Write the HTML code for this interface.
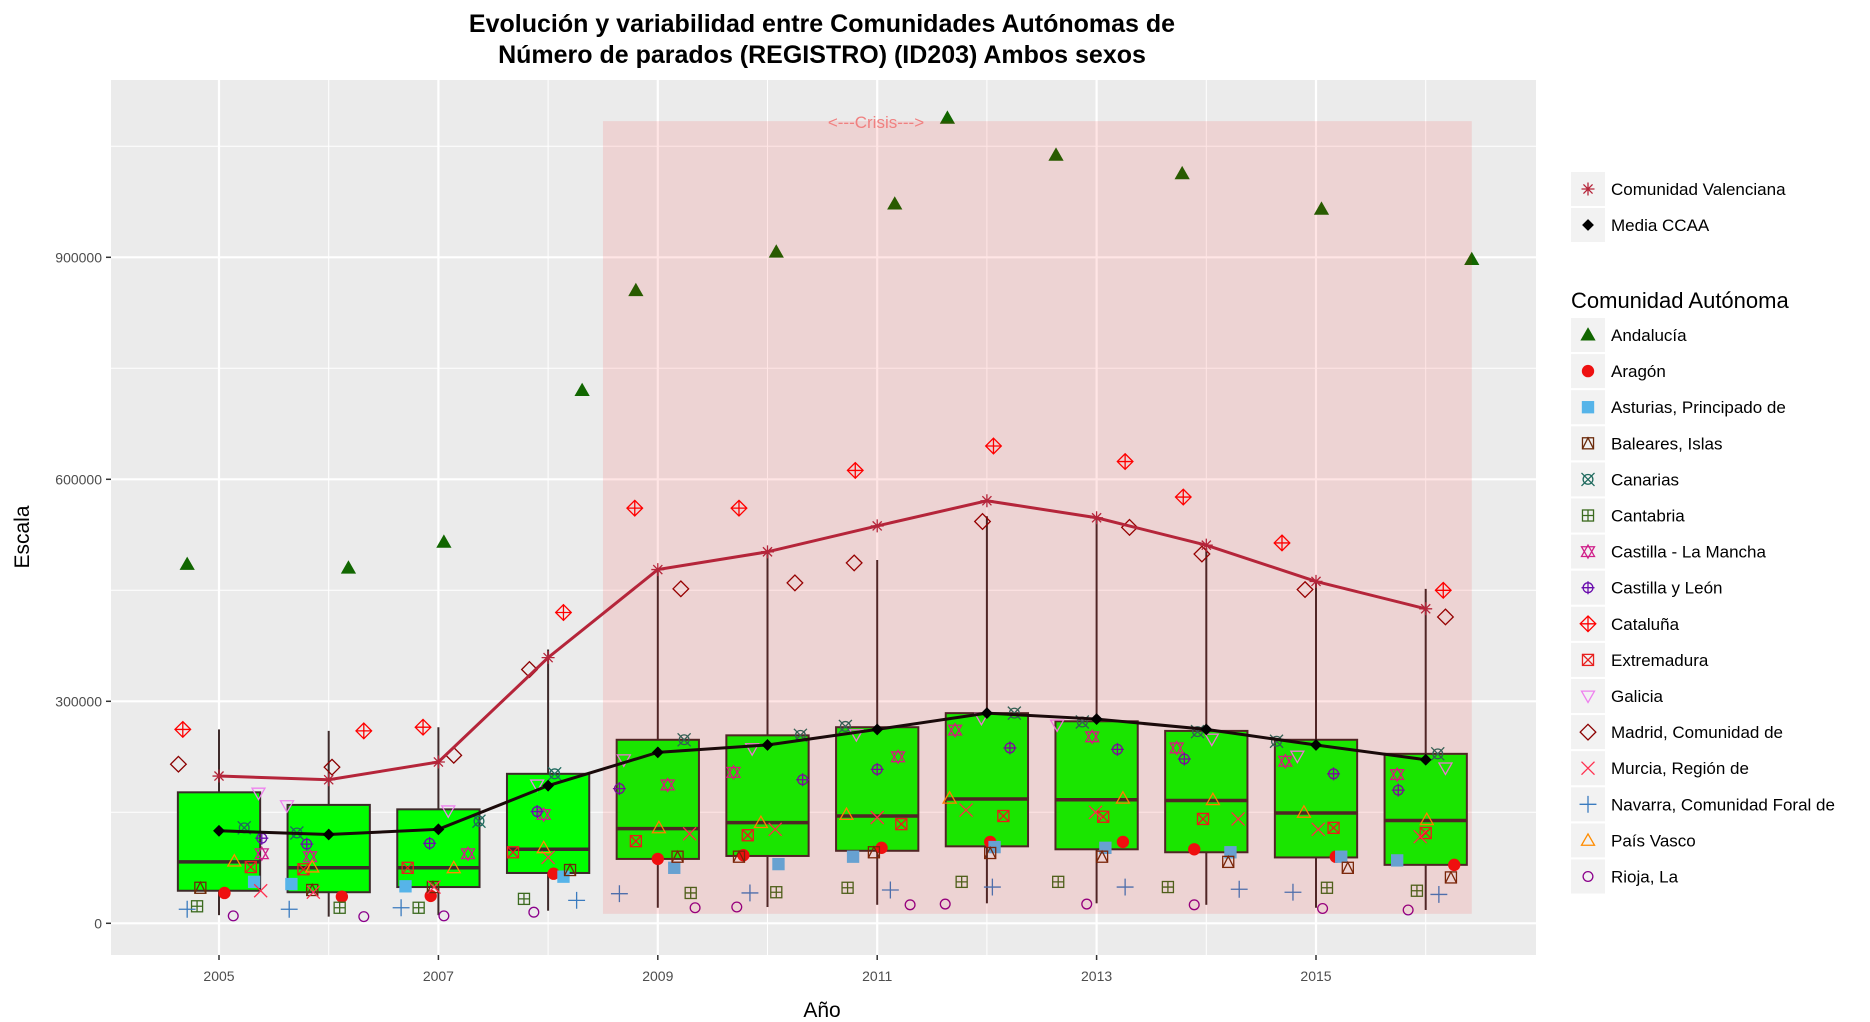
<!DOCTYPE html>
<html><head><meta charset="utf-8">
<style>
html,body{margin:0;padding:0;background:#fff;}
svg{display:block;font-family:"Liberation Sans",Arial,sans-serif;}
</style></head>
<body>
<svg id="chart" width="1870" height="1022" viewBox="0 0 1870 1022" xmlns="http://www.w3.org/2000/svg">
  <text x="822" y="32" text-anchor="middle" font-size="25" font-weight="bold" fill="#000">Evolución y variabilidad entre Comunidades Autónomas de</text>
  <text x="822" y="63" text-anchor="middle" font-size="25" font-weight="bold" fill="#000">Número de parados (REGISTRO) (ID203) Ambos sexos</text>
  <rect x="111" y="80" width="1425" height="875" fill="#ebebeb"/>
  <g id="grid"></g>
  <g id="boxes"></g>
  <g id="points"></g>
  <g id="crisis"></g>
  <g id="lines"></g>
  <g id="axes"></g>
  <text x="822" y="1017" text-anchor="middle" font-size="21" fill="#000">Año</text>
  <text transform="translate(29,537) rotate(-90)" text-anchor="middle" font-size="21" fill="#000">Escala</text>
  <g id="legend"></g>
</svg>
<script>
const years = [2005,2006,2007,2008,2009,2010,2011,2012,2013,2014,2015,2016];
const yTicks = [0,300000,600000,900000];
const xTicks = [2005,2007,2009,2011,2013,2015];
const boxQ1 = [44000,42000,49000,68000,87000,91000,98000,104000,100000,96000,89000,79000];
const boxMedian = [83000,75000,75000,100000,128000,136000,145000,168000,167000,166000,149000,139000];
const boxQ3 = [177000,160000,154000,202000,248000,254000,265000,284000,273000,260000,248000,229000];
const whiskerLow = [11000,9000,11000,17000,21000,22000,25000,27000,27000,25000,21000,18000];
const whiskerHigh = [262000,260000,265000,370000,478000,500000,491000,550000,548000,507000,462000,452000];
const mediaCCAA = [125000,120000,127000,186000,231000,241000,262000,284000,276000,262000,241000,221000];
const valenciana = [199000,194000,218000,359000,478000,502000,537000,571000,548000,511000,462000,425000];
const crisisStart = 2008.5, crisisEnd = 2016.42, crisisLow = 12800, crisisHigh = 1084000;

const andalucia = [485000,480000,515000,720000,855000,907000,972000,1088000,1038000,1013000,965000,897000];
const andaluciaJit = [-0.29,0.18,0.05,0.31,-0.2,0.08,0.16,-0.36,-0.37,-0.22,0.05,0.42];
const aragon = [41000,36000,37000,67000,87000,92000,102000,110000,110000,100000,90000,79000];
const aragonJit = [0.05,0.12,-0.07,0.05,0,-0.22,0.04,0.03,0.24,-0.11,0.18,0.26];
const asturias = [56000,53000,50000,63000,75000,80000,90000,103000,102000,96000,90000,85000];
const asturiasJit = [0.32,-0.34,-0.3,0.14,0.15,0.1,-0.22,0.07,0.08,0.22,0.23,-0.26];
const baleares = [48000,45000,49000,72000,90000,90000,96000,95000,90000,83000,75000,62000];
const balearesJit = [-0.17,-0.15,-0.05,0.2,0.18,-0.26,-0.03,0.03,0.05,0.2,0.29,0.23];
const canarias = [129000,122000,138000,202000,248000,254000,266000,284000,272000,259000,246000,229000];
const canariasJit = [0.23,-0.29,0.37,0.06,0.24,0.3,-0.29,0.25,-0.13,-0.08,-0.36,0.11];
const cantabria = [23000,21000,21000,33000,41000,42000,48000,56000,56000,49000,48000,44000];
const cantabriaJit = [-0.2,0.1,-0.18,-0.22,0.3,0.08,-0.27,-0.23,-0.35,-0.35,0.1,-0.08];
const clm = [94000,90000,94000,147000,187000,204000,225000,261000,252000,237000,219000,201000];
const clmJit = [0.39,-0.17,0.27,-0.04,0.09,-0.31,0.19,-0.29,-0.04,-0.27,-0.28,-0.26];
const cyl = [115000,107000,108000,151000,182000,194000,208000,237000,235000,222000,202000,180000];
const cylJit = [0.39,-0.2,-0.08,-0.1,-0.35,0.32,0,0.21,0.19,-0.2,0.16,-0.25];
const cataluna = [262000,260000,265000,420000,561000,561000,612000,645000,624000,576000,514000,450000];
const catalunaJit = [-0.33,0.32,-0.14,0.14,-0.21,-0.26,-0.2,0.06,0.26,-0.21,-0.31,0.16];
const extremadura = [76000,73000,75000,96000,111000,119000,134000,145000,144000,141000,129000,122000];
const extremaduraJit = [0.29,-0.23,-0.28,-0.32,-0.2,-0.18,0.22,0.15,0.06,-0.03,0.16,0];
const galicia = [176000,159000,152000,187000,221000,236000,255000,277000,268000,249000,226000,210000];
const galiciaJit = [0.36,-0.38,0.09,-0.1,-0.31,-0.14,-0.19,-0.05,-0.36,0.05,-0.17,0.18];
const madrid = [215000,211000,227000,343000,452000,460000,487000,543000,535000,499000,451000,414000];
const madridJit = [-0.37,0.03,0.14,-0.17,0.21,0.25,-0.21,-0.04,0.3,-0.04,-0.1,0.18];
const murcia = [44000,42000,49000,89000,121000,127000,143000,153000,150000,141000,127000,117000];
const murciaJit = [0.38,-0.14,-0.04,0,0.29,0.07,0,-0.19,-0.01,0.29,0.02,-0.05];
const navarra = [19000,19000,21000,31000,40000,41000,45000,49000,49000,46000,42000,39000];
const navarraJit = [-0.29,-0.36,-0.34,0.26,-0.35,-0.16,0.12,0.05,0.26,0.3,-0.21,0.12];
const paisVasco = [84000,76000,75000,102000,129000,136000,147000,169000,169000,167000,150000,140000];
const paisVascoJit = [0.14,-0.15,0.14,-0.04,0.01,-0.06,-0.28,-0.34,0.24,0.06,-0.11,0.01];
const rioja = [10000,9000,10000,15000,21000,22000,25000,26000,26000,25000,20000,18000];
const riojaJit = [0.13,0.32,0.05,-0.13,0.34,-0.28,0.3,-0.38,-0.09,-0.11,0.06,-0.16];

const NS = "http://www.w3.org/2000/svg";
const X = yr => 219 + (yr - 2005) * 109.7;
const Y = v => 923.3 - v * 222 / 300000;
function mk(tag, attrs, parent) {
  const e = document.createElementNS(NS, tag);
  for (const k in attrs) e.setAttribute(k, attrs[k]);
  parent.appendChild(e);
  return e;
}
const grid = document.getElementById('grid');
// minor y
for (let v = 150000; v <= 1050000; v += 300000) {
  const l = mk('line', {x1:111, x2:1536, y1:Y(v), y2:Y(v), stroke:'#fff', 'stroke-width':1}, grid);
  
  
}
yTicks.forEach(v => {
  const l = mk('line', {x1:111, x2:1536, y1:Y(v), y2:Y(v), stroke:'#fff', 'stroke-width':2.2}, grid);
  
  
});
for (let yr = 2004; yr <= 2016; yr += 2) {
  const l = mk('line', {x1:X(yr), x2:X(yr), y1:80, y2:955, stroke:'#fff', 'stroke-width':1}, grid);
  
  
}
xTicks.forEach(yr => {
  const l = mk('line', {x1:X(yr), x2:X(yr), y1:80, y2:955, stroke:'#fff', 'stroke-width':2.2}, grid);
  
  
});

// boxplots
const boxes = document.getElementById('boxes');
const hw = 0.375 * 109.7;
years.forEach((yr, i) => {
  const g = mk('g', {}, boxes);
  
  
  const cx = X(yr);
  const w1 = mk('line', {x1:cx, x2:cx, y1:Y(whiskerHigh[i]), y2:Y(boxQ3[i]), stroke:'#3d2a2a', 'stroke-width':2}, g);
  
  
  const w2 = mk('line', {x1:cx, x2:cx, y1:Y(boxQ1[i]), y2:Y(whiskerLow[i]), stroke:'#3d2a2a', 'stroke-width':2}, g);
  
  
  const r = mk('rect', {x:cx-hw, y:Y(boxQ3[i]), width:2*hw, height:Y(boxQ1[i])-Y(boxQ3[i]), fill:'#00ff00', stroke:'#3d2a2a', 'stroke-width':2}, g);
  
  
  const m = mk('line', {x1:cx-hw, x2:cx+hw, y1:Y(boxMedian[i]), y2:Y(boxMedian[i]), stroke:'#3d2a2a', 'stroke-width':3.5}, g);
  
  
});

// markers
function drawShape(shape, color, cx, cy, parent) {
  const s = 6.5;
  const g = mk('g', {fill:'none', stroke:color, 'stroke-width':1.3}, parent);
  const tri = (up, sz) => {
    const h = sz * 1.0;
    return up ? `${cx},${cy-h} ${cx+h},${cy+h*0.75} ${cx-h},${cy+h*0.75}` : `${cx},${cy+h} ${cx+h},${cy-h*0.75} ${cx-h},${cy-h*0.75}`;
  };
  switch (shape) {
    case 'triFill': mk('polygon', {points:tri(true, s), fill:color, stroke:color}, g); break;
    case 'tri': mk('polygon', {points:tri(true, s)}, g); break;
    case 'triDown': mk('polygon', {points:tri(false, s)}, g); break;
    case 'circleFill': mk('circle', {cx, cy, r:s*0.85, fill:color}, g); break;
    case 'circle': mk('circle', {cx, cy, r:s*0.75}, g); break;
    case 'circlePlus': mk('circle', {cx, cy, r:s*0.75}, g);
      mk('path', {d:`M${cx-s} ${cy}H${cx+s}M${cx} ${cy-s}V${cy+s}`}, g); break;
    case 'circleX': mk('circle', {cx, cy, r:s*0.75}, g);
      mk('path', {d:`M${cx-s} ${cy-s}L${cx+s} ${cy+s}M${cx+s} ${cy-s}L${cx-s} ${cy+s}`}, g); break;
    case 'squareFill': mk('rect', {x:cx-s*0.85, y:cy-s*0.85, width:s*1.7, height:s*1.7, fill:color}, g); break;
    case 'squareTri': mk('rect', {x:cx-s*0.85, y:cy-s*0.85, width:s*1.7, height:s*1.7}, g);
      mk('path', {d:`M${cx-s*0.85} ${cy+s*0.85}L${cx} ${cy-s*0.85}L${cx+s*0.85} ${cy+s*0.85}`}, g); break;
    case 'squareX': mk('rect', {x:cx-s*0.85, y:cy-s*0.85, width:s*1.7, height:s*1.7}, g);
      mk('path', {d:`M${cx-s*0.85} ${cy-s*0.85}L${cx+s*0.85} ${cy+s*0.85}M${cx+s*0.85} ${cy-s*0.85}L${cx-s*0.85} ${cy+s*0.85}`}, g); break;
    case 'squarePlus': mk('rect', {x:cx-s*0.85, y:cy-s*0.85, width:s*1.7, height:s*1.7}, g);
      mk('path', {d:`M${cx-s*0.85} ${cy}H${cx+s*0.85}M${cx} ${cy-s*0.85}V${cy+s*0.85}`}, g); break;
    case 'star': mk('polygon', {points:tri(true, s)}, g); mk('polygon', {points:tri(false, s)}, g); break;
    case 'diamondPlus': mk('polygon', {points:`${cx},${cy-s*1.2} ${cx+s*1.2},${cy} ${cx},${cy+s*1.2} ${cx-s*1.2},${cy}`}, g);
      mk('path', {d:`M${cx-s*1.2} ${cy}H${cx+s*1.2}M${cx} ${cy-s*1.2}V${cy+s*1.2}`}, g); break;
    case 'diamond': mk('polygon', {points:`${cx},${cy-s*1.2} ${cx+s*1.2},${cy} ${cx},${cy+s*1.2} ${cx-s*1.2},${cy}`}, g); break;
    case 'x': mk('path', {d:`M${cx-s} ${cy-s}L${cx+s} ${cy+s}M${cx+s} ${cy-s}L${cx-s} ${cy+s}`}, g); break;
    case 'plus': mk('path', {d:`M${cx-s*1.3} ${cy}H${cx+s*1.3}M${cx} ${cy-s*1.3}V${cy+s*1.3}`}, g); break;
    case 'asterisk': mk('path', {d:`M${cx-s} ${cy}H${cx+s}M${cx} ${cy-s}V${cy+s}M${cx-s*0.7} ${cy-s*0.7}L${cx+s*0.7} ${cy+s*0.7}M${cx+s*0.7} ${cy-s*0.7}L${cx-s*0.7} ${cy+s*0.7}`}, g); break;
    case 'diamondFill': mk('polygon', {points:`${cx},${cy-5} ${cx+5},${cy} ${cx},${cy+5} ${cx-5},${cy}`, fill:color}, g); break;
  }
  return g;
}

const communities = [
  {name:'Andalucía', slug:'andalucia', vals:andalucia, jit:andaluciaJit, shape:'triFill', color:'#116600'},
  {name:'Aragón', slug:'aragon', vals:aragon, jit:aragonJit, shape:'circleFill', color:'#ee1111'},
  {name:'Asturias, Principado de', slug:'asturias', vals:asturias, jit:asturiasJit, shape:'squareFill', color:'#56b4e9'},
  {name:'Baleares, Islas', slug:'baleares', vals:baleares, jit:balearesJit, shape:'squareTri', color:'#6b2a0a'},
  {name:'Canarias', slug:'canarias', vals:canarias, jit:canariasJit, shape:'circleX', color:'#1f6a5e'},
  {name:'Cantabria', slug:'cantabria', vals:cantabria, jit:cantabriaJit, shape:'squarePlus', color:'#3b6a1e'},
  {name:'Castilla - La Mancha', slug:'castilla-la-mancha', vals:clm, jit:clmJit, shape:'star', color:'#d0208a'},
  {name:'Castilla y León', slug:'castilla-y-leon', vals:cyl, jit:cylJit, shape:'circlePlus', color:'#6a0dad'},
  {name:'Cataluña', slug:'cataluna', vals:cataluna, jit:catalunaJit, shape:'diamondPlus', color:'#ff0000'},
  {name:'Extremadura', slug:'extremadura', vals:extremadura, jit:extremaduraJit, shape:'squareX', color:'#e8201e'},
  {name:'Galicia', slug:'galicia', vals:galicia, jit:galiciaJit, shape:'triDown', color:'#ee82ee'},
  {name:'Madrid, Comunidad de', slug:'madrid', vals:madrid, jit:madridJit, shape:'diamond', color:'#8b0000'},
  {name:'Murcia, Región de', slug:'murcia', vals:murcia, jit:murciaJit, shape:'x', color:'#ff3050'},
  {name:'Navarra, Comunidad Foral de', slug:'navarra', vals:navarra, jit:navarraJit, shape:'plus', color:'#3a7bbf'},
  {name:'País Vasco', slug:'pais-vasco', vals:paisVasco, jit:paisVascoJit, shape:'tri', color:'#ff8c00'},
  {name:'Rioja, La', slug:'rioja', vals:rioja, jit:riojaJit, shape:'circle', color:'#8b008b'}
];
const pts = document.getElementById('points');
communities.forEach(c => {
  c.vals.forEach((v, i) => {
    const g = drawShape(c.shape, c.color, X(years[i] + c.jit[i]), Y(v), pts);
    
    
  });
});

// crisis band
const crisis = document.getElementById('crisis');
const cr = mk('rect', {x:X(crisisStart), y:Y(crisisHigh), width:X(crisisEnd)-X(crisisStart), height:Y(crisisLow)-Y(crisisHigh), fill:'rgba(255,0,0,0.1)'}, crisis);


const ct = mk('text', {x:876, y:128, 'text-anchor':'middle', 'font-size':17, fill:'#f08080'}, crisis);
ct.textContent = '<---Crisis--->';



// lines
const lines = document.getElementById('lines');
const vl = mk('polyline', {points: years.map((yr,i)=>X(yr)+','+Y(valenciana[i])).join(' '), fill:'none', stroke:'#b5253a', 'stroke-width':3}, lines);


years.forEach((yr, i) => {
  const g = drawShape('asterisk', '#b5253a', X(yr), Y(valenciana[i]), lines);
  
  
});
const ml = mk('polyline', {points: years.map((yr,i)=>X(yr)+','+Y(mediaCCAA[i])).join(' '), fill:'none', stroke:'#1a0a0a', 'stroke-width':3}, lines);


years.forEach((yr, i) => {
  const g = drawShape('diamondFill', '#000', X(yr), Y(mediaCCAA[i]), lines);
  
  
});

// axes
const axes = document.getElementById('axes');
yTicks.forEach(v => {
  const t = mk('line', {x1:106, x2:111, y1:Y(v), y2:Y(v), stroke:'#333', 'stroke-width':1.5}, axes);
  
  
  const l = mk('text', {x:102, y:Y(v)+5, 'text-anchor':'end', 'font-size':14, fill:'#4d4d4d'}, axes);
  l.textContent = v;
  
  
});
xTicks.forEach(yr => {
  const t = mk('line', {x1:X(yr), x2:X(yr), y1:955, y2:960, stroke:'#333', 'stroke-width':1.5}, axes);
  
  
  const l = mk('text', {x:X(yr), y:981, 'text-anchor':'middle', 'font-size':14, fill:'#4d4d4d'}, axes);
  l.textContent = yr;
  
  
});

// legend
const leg = document.getElementById('legend');
function legItem(cy, shape, color, label, slug) {
  const g = mk('g', {}, leg);
  
  
  mk('rect', {x:1571, y:cy-17, width:34, height:34, fill:'#f2f2f2'}, g);
  drawShape(shape, color, 1588, cy, g);
  const t = mk('text', {x:1611, y:cy+6, 'font-size':17, fill:'#000'}, g);
  t.textContent = label;
}
legItem(189, 'asterisk', '#b5253a', 'Comunidad Valenciana', 'valenciana');
legItem(225, 'diamondFill', '#000', 'Media CCAA', 'media-ccaa');
const lt = mk('text', {x:1571, y:308, 'font-size':22, fill:'#000'}, leg);
lt.textContent = 'Comunidad Autónoma';


communities.forEach((c, i) => legItem(335 + i * 36.1, c.shape, c.color, c.name, c.slug));
</script>
</body></html>
